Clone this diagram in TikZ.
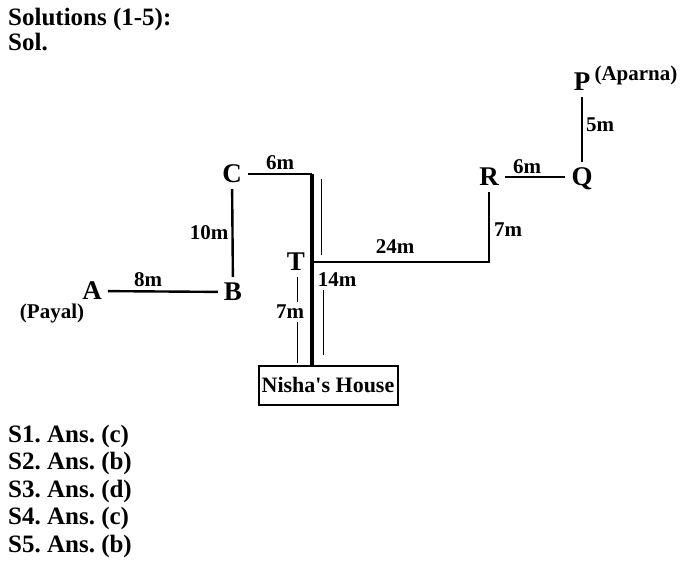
\documentclass[tikz,border=0pt]{standalone}
\usepackage{fontspec}
\setmainfont{Liberation Serif}
\frenchspacing
\begin{document}
\begin{tikzpicture}[x=1pt, y=-1pt,
  letter/.style={font=\fontsize{27}{32}\selectfont\bfseries, text depth=0pt, inner sep=6pt},
  dist/.style={font=\fontsize{21}{25}\selectfont\bfseries, inner sep=0pt},
  road/.style={line width=2.4pt},
  dimline/.style={line width=0.8pt},
  answer/.style={font=\fontsize{25}{30}\selectfont\bfseries, anchor=base west, inner sep=0pt}]

  \useasboundingbox (0,0) rectangle (693,565);

  % Heading
  \node[answer] (title) at (8,25) {Solutions (1-5):};
  \node[answer] (sol) at (8,50) {Sol.};

  % Points
  \node[letter] (A) at (92,291) {A};
  \node[letter] (B) at (233,292) {B};
  \node[letter] (C) at (232,174) {C};
  \node[letter] (T) at (296,262) {T};
  \node[letter] (R) at (489,177) {R};
  \node[letter] (Q) at (582,177) {Q};
  \node[letter] (P) at (582,82) {P};

  \node[draw, line width=2pt, minimum width=139pt, minimum height=39pt,
        dist, font=\fontsize{22}{26}\selectfont\bfseries] (house) at (328,385)
        {Nisha\textquotesingle s House};

  \coordinate (c1) at (312,174);
  \coordinate (t1) at (312,262);
  \coordinate (r1) at (489,262);

  % Thin marks
  \draw[dimline] (321,179) -- (321,255);
  \draw[dimline] (323,290) -- (323,355);
  \draw[dimline] (297,277) -- (297,363);

  % Roads
  \draw[road] (A) -- (B);
  \draw[road] (B) -- (C);
  \draw[road] (C) -- (c1);
  \draw[line width=3.4pt] (c1) -- (house.north -| c1);
  \draw[road] (t1) -- (r1) -- (R);
  \draw[road] (R) -- (Q);
  \draw[road] (Q) -- (P);

  % Distances
  \node[dist] (d8) at (148,280) {8m};
  \node[dist] (d10) at (209,233) {10m};
  \node[dist] (d6a) at (280,163) {6m};
  \node[dist] (d24) at (395,247) {24m};
  \node[dist] (d14) at (337,280) {14m};
  \node[dist, fill=white, inner ysep=3pt] (d7a) at (290,312) {7m};
  \node[dist] (d7b) at (508,230) {7m};
  \node[dist] (d6b) at (527,167) {6m};
  \node[dist] (d5) at (600,125) {5m};

  % Names
  \node[dist] (payal) at (52,313) {(Payal)};
  \node[dist] (aparna) at (636,75) {(Aparna)};

  % Answers
  \node[answer] (s1) at (8,442) {S1. Ans. (c)};
  \node[answer] (s2) at (8,469.5) {S2. Ans. (b)};
  \node[answer] (s3) at (8,497) {S3. Ans. (d)};
  \node[answer] (s4) at (8,524.5) {S4. Ans. (c)};
  \node[answer] (s5) at (8,552) {S5. Ans. (b)};
\end{tikzpicture}
\end{document}
